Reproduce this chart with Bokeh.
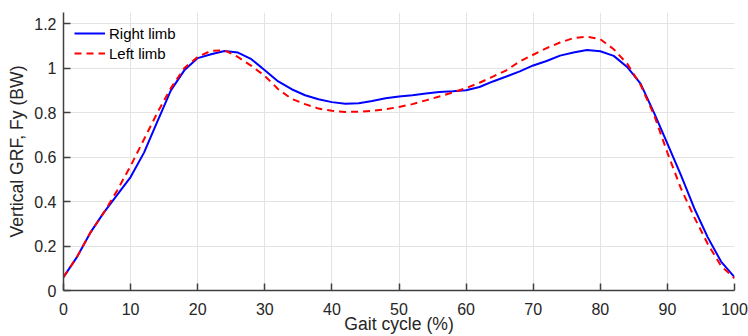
from bokeh.plotting import figure
from bokeh.models import Range1d, FixedTicker, CustomJSTickFormatter
from bokeh.embed import file_html
from bokeh.resources import INLINE

gait = [0, 2, 4, 6, 8, 10, 12, 14, 16, 18, 20, 22, 24, 26, 28, 30, 32, 34, 36, 38, 40,
        42, 44, 46, 48, 50, 52, 54, 56, 58, 60, 62, 64, 66, 68, 70, 72, 74, 76, 78, 80,
        82, 84, 86, 88, 90, 92, 94, 96, 98, 100]

right_limb = [0.06, 0.15, 0.26, 0.35, 0.43, 0.51, 0.62, 0.76, 0.90, 0.99, 1.045, 1.062, 1.077,
              1.07, 1.04, 0.99, 0.94, 0.905, 0.878, 0.86, 0.847, 0.84, 0.842, 0.852, 0.864,
              0.872, 0.878, 0.886, 0.893, 0.896, 0.900, 0.915, 0.94, 0.962, 0.985, 1.012,
              1.032, 1.056, 1.07, 1.081, 1.076, 1.055, 1.005, 0.93, 0.80, 0.66, 0.52, 0.37,
              0.24, 0.13, 0.06]

left_limb = [0.06, 0.15, 0.26, 0.35, 0.45, 0.56, 0.68, 0.80, 0.91, 1.00, 1.05, 1.078, 1.08,
             1.05, 1.01, 0.965, 0.905, 0.862, 0.838, 0.818, 0.808, 0.803, 0.804, 0.808, 0.815,
             0.825, 0.838, 0.855, 0.872, 0.89, 0.91, 0.934, 0.962, 0.99, 1.03, 1.06, 1.09,
             1.115, 1.135, 1.141, 1.13, 1.085, 1.02, 0.925, 0.79, 0.62, 0.46, 0.33, 0.21,
             0.11, 0.055]

x_ticks = [0, 10, 20, 30, 40, 50, 60, 70, 80, 90, 100]
y_ticks = [0, 0.2, 0.4, 0.6, 0.8, 1.0, 1.2]

FONT = "Liberation Sans"
TXT = "#262626"
AX = "#404040"

p = figure(width=748, height=336, x_range=Range1d(0, 100), y_range=Range1d(0, 1.25),
           output_backend="svg", toolbar_location=None,
           min_border_left=63, min_border_right=14, min_border_top=12, min_border_bottom=46)
p.outline_line_color = None
p.background_fill_color = "white"

p.line(gait, right_limb, line_color="#0000ff", line_width=2, legend_label="Right limb")
p.line(gait, left_limb, line_color="#ff0000", line_width=2, line_dash="7 5",
       legend_label="Left limb")

for ax in (p.xaxis[0], p.yaxis[0]):
    ax.axis_line_color = AX
    ax.axis_line_width = 1.5
    ax.major_tick_line_color = AX
    ax.major_tick_line_width = 1.5
    ax.major_tick_in = 7
    ax.major_tick_out = 0
    ax.minor_tick_line_color = None
    ax.major_label_text_font = FONT
    ax.major_label_text_font_size = "16px"
    ax.major_label_text_color = TXT
    ax.axis_label_text_font = FONT
    ax.axis_label_text_font_size = "17.6px"
    ax.axis_label_text_font_style = "normal"
    ax.axis_label_text_color = TXT

p.xaxis.ticker = FixedTicker(ticks=x_ticks)
p.yaxis.ticker = FixedTicker(ticks=y_ticks)
p.yaxis.formatter = CustomJSTickFormatter(code="return (Math.round(tick*10)/10).toString();")
p.xaxis.major_label_standoff = 12
p.yaxis.major_label_standoff = 7

p.yaxis.axis_label = "Vertical GRF, Fy (BW)"
p.yaxis.axis_label_standoff = 4
p.xaxis.axis_label = "Gait cycle (%)"
p.xaxis.axis_label_standoff = -4

p.xgrid.ticker = FixedTicker(ticks=x_ticks)
p.ygrid.ticker = FixedTicker(ticks=y_ticks)
p.grid.grid_line_color = "#e3e3e3"
p.grid.grid_line_width = 1

lg = p.legend[0]
lg.location = "top_left"
lg.margin = 5
lg.padding = 6
lg.spacing = 0
lg.label_height = 20
lg.glyph_height = 20
lg.glyph_width = 31
lg.label_standoff = 4
lg.label_text_font = FONT
lg.label_text_font_size = "15px"
lg.label_text_color = "black"
lg.background_fill_alpha = 0
lg.border_line_alpha = 0

open("out.html", "w").write(file_html(p, INLINE))
